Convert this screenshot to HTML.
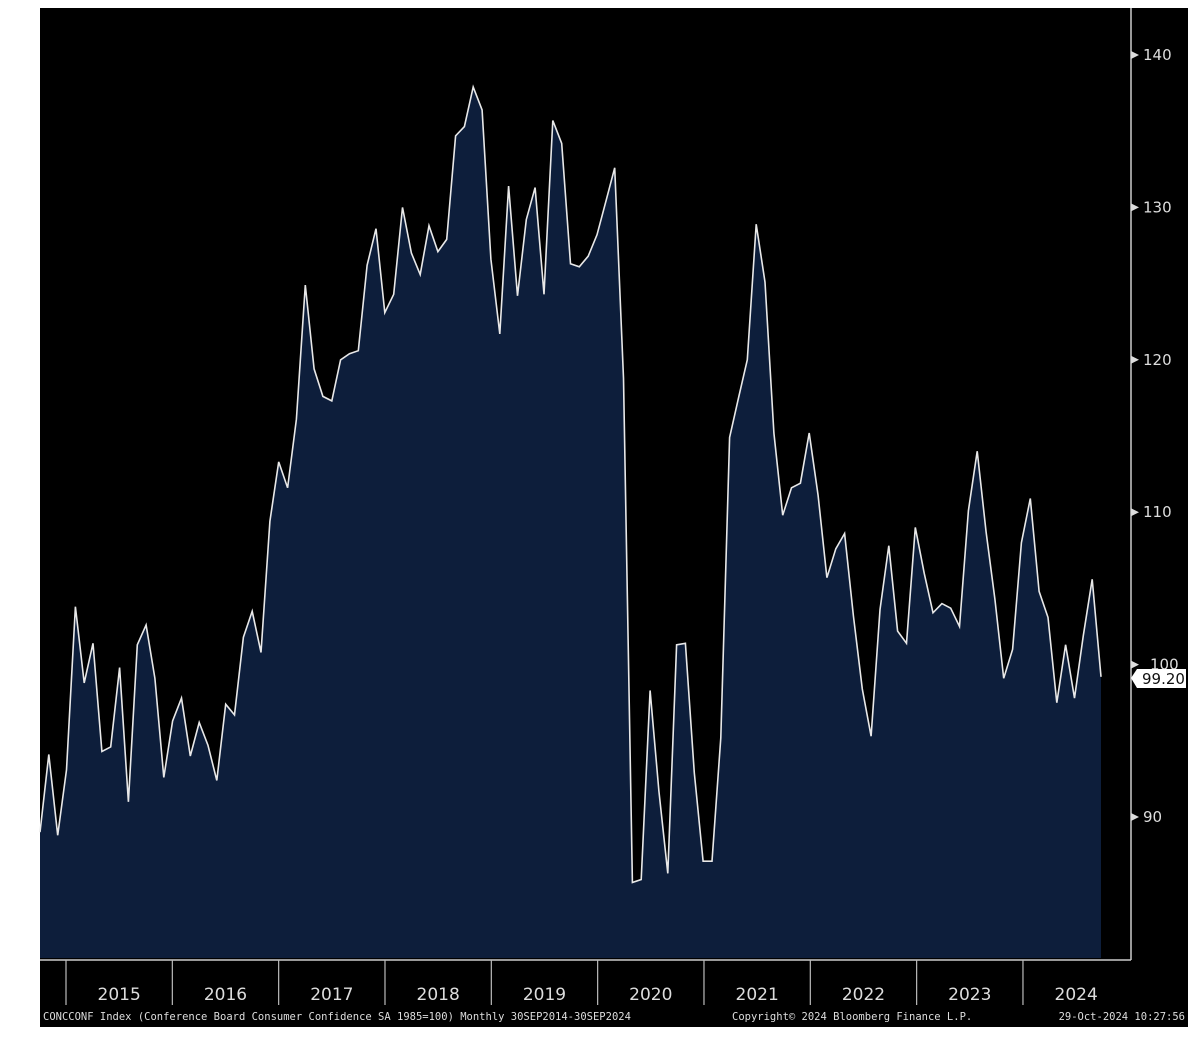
<!DOCTYPE html>
<html><head><meta charset="utf-8"><style>
html,body{margin:0;padding:0;background:#fff;width:1200px;height:1047px;overflow:hidden}
svg{display:block}
</style></head><body>
<svg id="s" width="1200" height="1047" xmlns="http://www.w3.org/2000/svg" font-family="'DejaVu Sans', 'Liberation Sans', sans-serif">
<rect x="40" y="8" width="1148" height="1019" fill="#000"/>
<path id="area" fill="#0d1e3b" stroke="none"/>
<path id="line" fill="none" stroke="#e8e8e8" stroke-width="1.6"/>
<line x1="1131" y1="8" x2="1131" y2="960" stroke="#ccc" stroke-width="1.5"/>
<line x1="40" y1="960" x2="1131" y2="960" stroke="#ccc" stroke-width="1.5"/>
<g id="ticks" stroke="#bbb" stroke-width="1.2"></g>
<g id="ylab" fill="#ddd" font-size="15"></g>
<g id="xlab" fill="#ddd" font-size="17" text-anchor="middle"></g>
<polygon points="1131,678 1137,669 1186,669 1186,688 1137,688" fill="#fff"/>
<text x="1142" y="684" font-size="15" fill="#111">99.20</text>
<text x="43" y="1020" font-size="10.5" fill="#ddd" font-family="'DejaVu Sans Mono','Liberation Mono',monospace">CONCCONF Index (Conference Board Consumer Confidence SA 1985=100)  Monthly 30SEP2014-30SEP2024</text>
<text x="732" y="1020" font-size="10.5" fill="#ddd" font-family="'DejaVu Sans Mono','Liberation Mono',monospace">Copyright© 2024 Bloomberg Finance L.P.</text>
<text x="1185" y="1020" font-size="10.5" fill="#ddd" text-anchor="end" font-family="'DejaVu Sans Mono','Liberation Mono',monospace">29-Oct-2024 10:27:56</text>
</svg>
<script>
var d=[89,94.1,88.8,93.1,103.8,98.8,101.4,94.3,94.6,99.8,91,101.3,102.6,99.1,92.6,96.3,97.8,94,96.2,94.7,92.4,97.4,96.7,101.8,103.5,100.8,109.4,113.3,111.6,116.1,124.9,119.4,117.6,117.3,120,120.4,120.6,126.2,128.6,123.1,124.3,130,127,125.6,128.8,127.1,127.9,134.7,135.3,137.9,136.4,126.6,121.7,131.4,124.2,129.2,131.3,124.3,135.7,134.2,126.3,126.1,126.8,128.2,130.4,132.6,118.8,85.7,85.9,98.3,91.7,86.3,101.3,101.4,92.9,87.1,87.1,95.2,114.9,117.5,120,128.9,125.1,115.2,109.8,111.6,111.9,115.2,111.1,105.7,107.6,108.6,103.2,98.4,95.3,103.6,107.8,102.2,101.4,109,106,103.4,104,103.7,102.5,110.1,114,108.7,104.3,99.1,101,108,110.9,104.8,103.1,97.5,101.3,97.8,101.9,105.6,99.2];
function X(i){return 40+i*(1101-40)/(d.length-1)}
function Y(v){return 55+(140-v)*15.24}
var p="";for(var i=0;i<d.length;i++){p+=(i?"L":"M")+X(i).toFixed(1)+","+Y(d[i]).toFixed(1)}
document.getElementById("line").setAttribute("d",p);
document.getElementById("area").setAttribute("d",p+"L"+X(d.length-1)+",958L40,958Z");
var ns="http://www.w3.org/2000/svg";
function el(t,a,par,txt){var e=document.createElementNS(ns,t);for(var k in a)e.setAttribute(k,a[k]);if(txt)e.textContent=txt;document.getElementById(par).appendChild(e);}
[140,130,120,110,100,90].forEach(function(v){var y=Y(v);
el("polygon",{points:"1131,"+(y-4)+" 1139,"+y+" 1131,"+(y+4),fill:"#ddd"},"ylab");
el("text",{x:(v==100?1150:1143),y:y+5},"ylab",String(v));});
for(var k=0;k<10;k++){var x=66+k*106.33;el("line",{x1:x,y1:960,x2:x,y2:1005},"ticks");
var xe=Math.min(x+106.33,1131);el("text",{x:(x+xe)/2,y:1000},"xlab",String(2015+k));}
</script>
</body></html>
